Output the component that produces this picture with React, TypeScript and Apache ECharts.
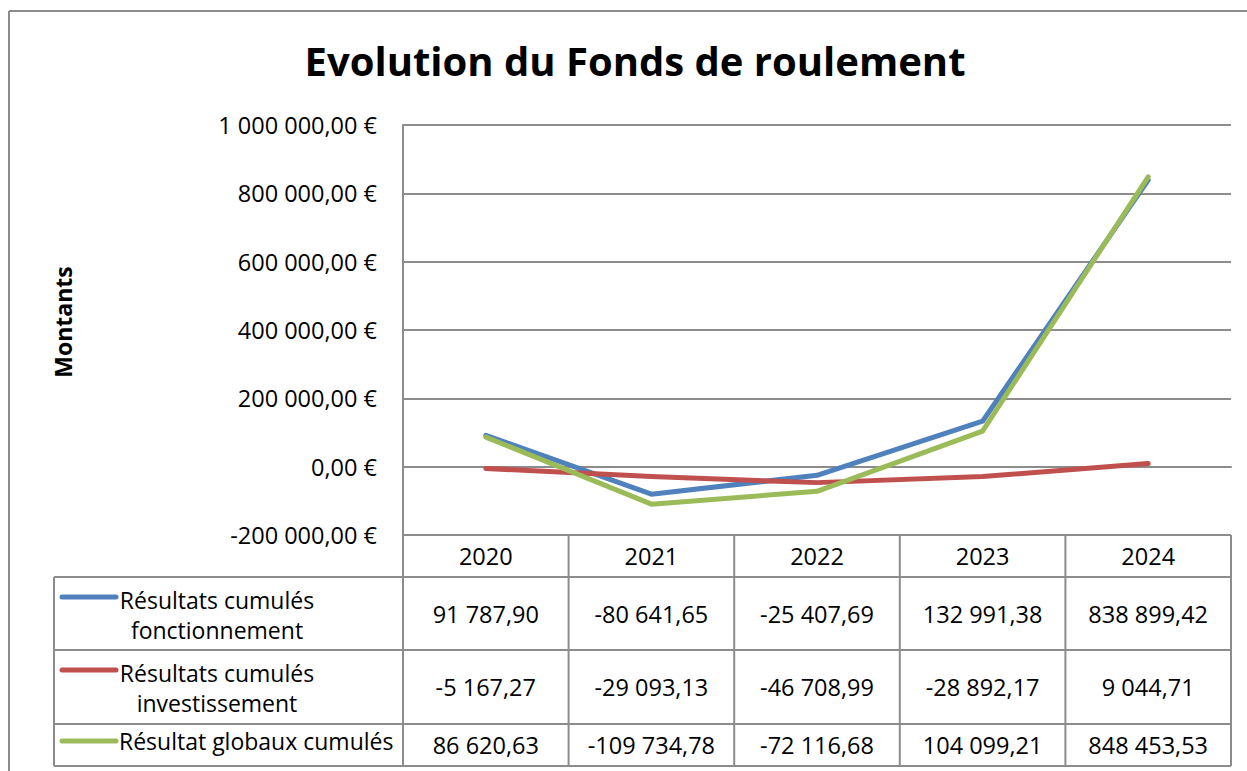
import React, { useEffect, useRef } from "react";
import * as echarts from "echarts";

const years = ["2020", "2021", "2022", "2023", "2024"];
const fonctionnement = [91787.9, -80641.65, -25407.69, 132991.38, 838899.42];
const investissement = [-5167.27, -29093.13, -46708.99, -28892.17, 9044.71];
const globaux = [86620.63, -109734.78, -72116.68, 104099.21, 848453.53];
const seriesNames = [
  "Résultats cumulés fonctionnement",
  "Résultats cumulés investissement",
  "Résultat globaux cumulés",
];
const legendLabels = [
  "Résultats cumulés\nfonctionnement",
  "Résultats cumulés\ninvestissement",
  "Résultat globaux cumulés",
];
const seriesColors = ["#4F81BD", "#C0504D", "#9BBB59"];
const yMin = -200000;
const yMax = 1000000;
const yInterval = 200000;
const chartTitle = "Evolution du Fonds de roulement";
const yAxisTitle = "Montants";

const FONT = "'Open Sans', 'Noto Sans', sans-serif";
const GRAY = "#8c8c8c";

function fr(v: number): string {
  const s = Math.abs(v).toFixed(2);
  const [i, d] = s.split(".");
  const ii = i.replace(/\B(?=(\d{3})+(?!\d))/g, " ");
  return (v < 0 ? "-" : "") + ii + "," + d;
}

export default function App() {
  const ref = useRef<HTMLDivElement>(null);
  useEffect(() => {
    document.body.style.margin = "0";
    if (!ref.current) return;
    const chart = echarts.init(ref.current, undefined, { renderer: "svg" });

    const W = 1247;
    const H = 771;
    const plotLeft = 403;
    const plotRight = 1231;
    const plotTop = 125;
    const plotBottom = 535;
    const tableLeft = 54;
    const rowEdges = [577, 650, 724, 766];
    const colW = (plotRight - plotLeft) / years.length;
    const allSeries = [fonctionnement, investissement, globaux];
    const FS = 23.5;
    const LFS = 23;

    const graphic: any[] = [];
    graphic.push({ type: "line", shape: { x1: 9, y1: 11, x2: 9, y2: H }, style: { stroke: GRAY, lineWidth: 2 } });
    graphic.push({ type: "line", shape: { x1: 9, y1: 11, x2: W, y2: 11 }, style: { stroke: GRAY, lineWidth: 2 } });
    graphic.push({
      type: "text",
      x: 63,
      y: 322,
      rotation: Math.PI / 2,
      style: {
        text: yAxisTitle,
        font: `bold 23px ${FONT}`,
        fill: "#000",
        align: "center",
        verticalAlign: "middle",
      },
    });
    for (let c = 0; c <= years.length; c++) {
      const x = plotLeft + c * colW;
      graphic.push({ type: "line", shape: { x1: x, y1: plotBottom, x2: x, y2: rowEdges[rowEdges.length - 1] }, style: { stroke: GRAY, lineWidth: 2 } });
    }
    graphic.push({ type: "line", shape: { x1: tableLeft, y1: rowEdges[0], x2: tableLeft, y2: rowEdges[rowEdges.length - 1] }, style: { stroke: GRAY, lineWidth: 2 } });
    for (const y of rowEdges) {
      graphic.push({ type: "line", shape: { x1: tableLeft, y1: y, x2: plotRight, y2: y }, style: { stroke: GRAY, lineWidth: 2 } });
    }
    allSeries.forEach((vals, r) => {
      const top = rowEdges[r];
      const bot = rowEdges[r + 1];
      const mid = (top + bot) / 2;
      const twoLines = legendLabels[r].includes("\n");
      const keyY = twoLines ? top + 20 : mid - 4;
      graphic.push({ type: "line", shape: { x1: 62, y1: keyY, x2: 116, y2: keyY }, style: { stroke: seriesColors[r], lineWidth: 5, lineCap: "round" } });
      graphic.push({
        type: "text",
        x: twoLines ? 217 : 119,
        y: twoLines ? mid + 1 : mid - 4,
        style: {
          text: legendLabels[r],
          font: `${LFS}px ${FONT}`,
          fill: "#000",
          align: twoLines ? "center" : "left",
          verticalAlign: "middle",
          lineHeight: 30,
        },
      });
      vals.forEach((v, c) => {
        graphic.push({
          type: "text",
          x: plotLeft + (c + 0.5) * colW,
          y: mid,
          style: { text: fr(v), font: `${FS}px ${FONT}`, fill: "#000", align: "center", verticalAlign: "middle" },
        });
      });
    });

    chart.setOption({
      animation: false,
      title: {
        text: chartTitle,
        left: 630,
        top: 35,
        textAlign: "center",
        textStyle: { fontFamily: FONT, fontWeight: "bold", fontSize: 40, color: "#000" },
      },
      grid: { left: plotLeft, right: W - plotRight, top: plotTop, bottom: H - plotBottom, containLabel: false },
      xAxis: {
        type: "category",
        data: years,
        boundaryGap: true,
        axisLine: { show: true, lineStyle: { color: GRAY, width: 2 } },
        axisTick: { show: false },
        axisLabel: { fontFamily: FONT, fontSize: FS, color: "#000", margin: 8, lineHeight: 26 },
      },
      yAxis: {
        type: "value",
        min: yMin,
        max: yMax,
        interval: yInterval,
        axisLine: { show: true, lineStyle: { color: GRAY, width: 2 } },
        axisTick: { show: false },
        splitLine: { show: true, lineStyle: { color: GRAY, width: 2 } },
        axisLabel: {
          fontFamily: FONT,
          fontSize: FS,
          color: "#000",
          margin: 26,
          formatter: (v: number) => fr(v) + " €",
        },
      },
      series: allSeries.map((vals, i) => ({
        name: seriesNames[i],
        type: "line",
        data: vals,
        symbol: "none",
        lineStyle: { color: seriesColors[i], width: 5, cap: "round", join: "round" },
        itemStyle: { color: seriesColors[i] },
      })),
      graphic,
    });
    return () => chart.dispose();
  }, []);
  return <div ref={ref} style={{ width: 1247, height: 771 }} />;
}
